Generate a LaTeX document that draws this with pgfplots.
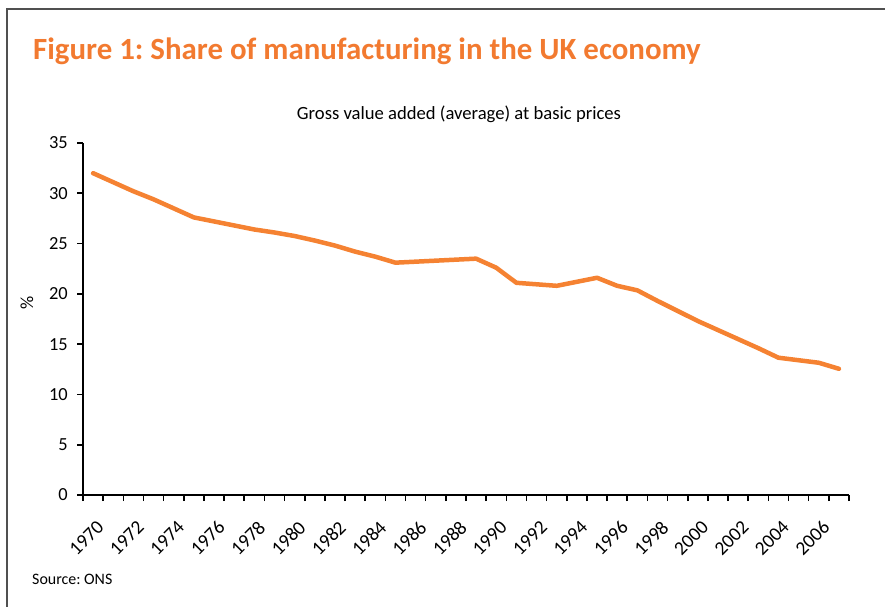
\documentclass[border=0pt]{standalone}
\usepackage{pgfplots}
\pgfplotsset{compat=1.18}
\usepackage{fontspec}
\setmainfont{Carlito}
\frenchspacing
\definecolor{lineorange}{RGB}{245,130,50}
\definecolor{titleorange}{RGB}{242,122,48}
\definecolor{framegray}{RGB}{80,80,80}
\begin{document}
\begin{tikzpicture}
\useasboundingbox (0,0) rectangle (885bp,607bp);
% frame (top and left edges visible)
\draw[framegray, line width=2bp] (6.5bp,-2bp) -- (6.5bp,597.5bp) -- (890bp,597.5bp);
\node[anchor=base west, inner sep=0pt, text=titleorange, font=\bfseries\fontsize{31}{36}\selectfont]
  at (33bp,547bp) {Figure 1: Share of manufacturing in the UK economy};
\node[anchor=base, inner sep=0pt, font=\fontsize{18.7}{22}\selectfont]
  at (459bp,487bp) {Gross value added (average) at basic prices};
\node[anchor=base west, inner sep=0pt, font=\fontsize{16}{19}\selectfont]
  at (32bp,23bp) {Source: ONS};
\node[rotate=90, inner sep=0pt, font=\fontsize{18.5}{22}\selectfont] at (27bp,304bp) {\%};
\begin{axis}[
  at={(83bp,112bp)}, anchor=south west,
  width=766bp, height=352bp, scale only axis,
  xmin=1969.5, xmax=2007.5, ymin=0, ymax=35,
  axis x line*=bottom, axis y line*=left,
  axis line style={line width=1.6bp, black},
  ytick={0,5,...,35},
  xtick={1970,1972,...,2006},
  minor xtick={1969.5,1970.5,...,2007.5},
  major x tick style={draw=none},
  tick style={line width=1.6bp, black},
  tick align=outside,
  major tick length=6bp, minor tick length=6bp,
  /pgf/number format/assume math mode=true,
  /pgf/number format/1000 sep={},
  ticklabel style={font=\fontsize{18.5}{22}\selectfont},
  xticklabel style={rotate=45, anchor=north east, inner sep=1bp, yshift=-14bp, xshift=-10bp,
    font=\fontsize{19.5}{22}\selectfont},
  yticklabel style={inner sep=2bp, xshift=-7bp},
  clip=false,
]
\addplot[lineorange, line width=4.5bp, line join=round, line cap=round] coordinates {
  (1970,32.0) (1971,31.1) (1972,30.2) (1973,29.4) (1974,28.5)
  (1975,27.6) (1976,27.2) (1977,26.8) (1978,26.4) (1979,26.1)
  (1980,25.75) (1981,25.3) (1982,24.8) (1983,24.2) (1984,23.7)
  (1985,23.1) (1986,23.2) (1987,23.3) (1988,23.4) (1989,23.5)
  (1990,22.6) (1991,21.1) (1992,20.95) (1993,20.8) (1994,21.2)
  (1995,21.6) (1996,20.8) (1997,20.35) (1998,19.3) (1999,18.3)
  (2000,17.3) (2001,16.4) (2002,15.5) (2003,14.6) (2004,13.65)
  (2005,13.4) (2006,13.15) (2007,12.55)
};
\end{axis}
\end{tikzpicture}
\end{document}
